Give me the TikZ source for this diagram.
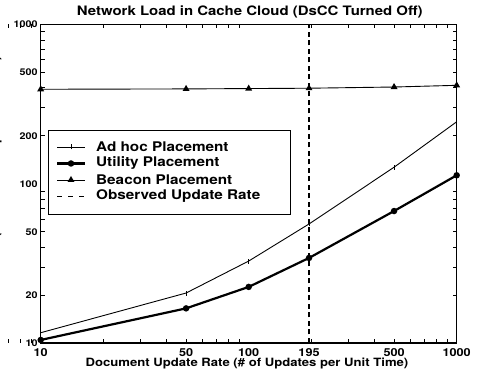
\documentclass[tikz,border=0pt]{standalone}
\usepackage{fontspec}
\setmainfont{TeX Gyre Heros}
\usetikzlibrary{positioning,shapes.geometric}
\newcommand\widetxt[1]{\scalebox{1.15}[1]{#1}}

\begin{document}
\begin{tikzpicture}[x=1pt,y=1pt,
  every node/.style={font=\bfseries\fontsize{9.3}{10}\selectfont, inner sep=0pt},
  xticklab/.style={font=\bfseries\fontsize{11}{12}\selectfont},
  legtext/.style={anchor=west, font=\bfseries\fontsize{13.3}{14}\selectfont},
  thinline/.style={line width=0.9pt},
  thickline/.style={line width=2.2pt},
  dotmark/.style={circle, fill, minimum size=6.5pt},
  trimark/.style={regular polygon, regular polygon sides=3, fill, minimum size=8pt},
  obsline/.style={line width=1.2pt, dash pattern=on 5pt off 3.5pt}]
\useasboundingbox (0,0) rectangle (485,382);

% Title and axis labels
\node (title) [anchor=base] at (249.7,366.5) {\fontsize{13}{14}\selectfont\widetxt{Network Load in Cache Cloud (DsCC Turned Off)}};
\node (xlabel) [anchor=base] at (247,15) {\fontsize{11.4}{12}\selectfont\widetxt{Document Update Rate (\# of Updates per Unit Time)}};
\node (ylabel) [rotate=90] at (-4,190) {\fontsize{11.4}{12}\selectfont\widetxt{Network Load (\# of Transfers per Unit Time)}};

\begin{scope}[shift={(40.7,39)}, x=208pt, y=159.25pt]
% Frame
\draw[line width=1.3pt] (0,0) rectangle (2,2);

% Ticks on both axes
\foreach \v in {2,...,9,20,30,...,90,195,200,300,...,900} {
  \draw[line width=0.8pt] ({log10(\v)-1},0) -- ++(0,4pt);
  \draw[line width=0.8pt] ({log10(\v)-1},2) -- ++(0,-4pt);
}
\foreach \v in {20,30,...,90,200,300,...,900} {
  \draw[line width=0.8pt] (0,{log10(\v)-1}) -- ++(4pt,0);
  \draw[line width=0.8pt] (2,{log10(\v)-1}) -- ++(-4pt,0);
}

% Tick labels
\foreach \v in {10,50,100,195,500,1000}
  \node (xt\v) [xticklab] at ({log10(\v)-1},-10pt) {\widetxt{\v}};
\foreach \v in {10,20,50,100,200,500,1000}
  \node (yt\v) [anchor=east] at (-3pt,{log10(\v)-1}) {\widetxt{\v}};

% Data points
\foreach \x/\y [count=\i] in {10/11.6,50/20.6,100/32.7,195/55.9,500/127,1000/245}
  \coordinate (a\i) at ({log10(\x)-1},{log10(\y)-1});
\foreach \x/\y [count=\i] in {10/10.45,50/16.5,100/22.5,195/34.2,500/67.4,1000/113}
  \coordinate (u\i) at ({log10(\x)-1},{log10(\y)-1});
\foreach \x/\y [count=\i] in {10/392,50/394,100/396,195/398,500/405,1000/415}
  \coordinate (b\i) at ({log10(\x)-1},{log10(\y)-1});

% Observed update rate
\draw[obsline] ({log10(195)-1},0) -- ({log10(195)-1},2);

% Curves
\draw[thinline] (a1) \foreach \i in {2,...,6} {-- (a\i)};
\foreach \i in {1,...,6}
  \draw[line width=1pt] (a\i) ++(0,-2.5pt) -- ++(0,5pt);
\draw[thickline] (u1) \foreach \i in {2,...,6} {-- (u\i)};
\foreach \i in {1,...,6}
  \node (um\i) [dotmark] at (u\i) {};
\draw[thinline] (b1) \foreach \i in {2,...,6} {-- (b\i)};
\foreach \i in {1,...,6}
  \node (bm\i) [trimark] at (b\i) {};
\end{scope}

% Legend
\draw[line width=1pt, fill=white] (48,167) rectangle (290.7,251);
\node (lg1) [legtext] at (96,235) {\widetxt{Ad hoc Placement}};
\node (lg2) [legtext] at (96,218.5) {\widetxt{Utility Placement}};
\node (lg3) [legtext] at (96,202) {\widetxt{Beacon Placement}};
\node (lg4) [legtext] at (96,185.5) {\widetxt{Observed Update Rate}};
\draw[thinline] (57,235) -- (85,235);
\draw[line width=1pt] (71,232.5) -- (71,237.5);
\draw[thickline] (57,218.5) -- (85,218.5);
\node (lgu) [dotmark] at (71,218.5) {};
\draw[thinline] (57,202) -- (85,202);
\node (lgb) [trimark] at (71,202) {};
\draw[line width=0.9pt, dash pattern=on 5pt off 6pt] (57,185.5) -- (87,185.5);
\end{tikzpicture}
\end{document}
